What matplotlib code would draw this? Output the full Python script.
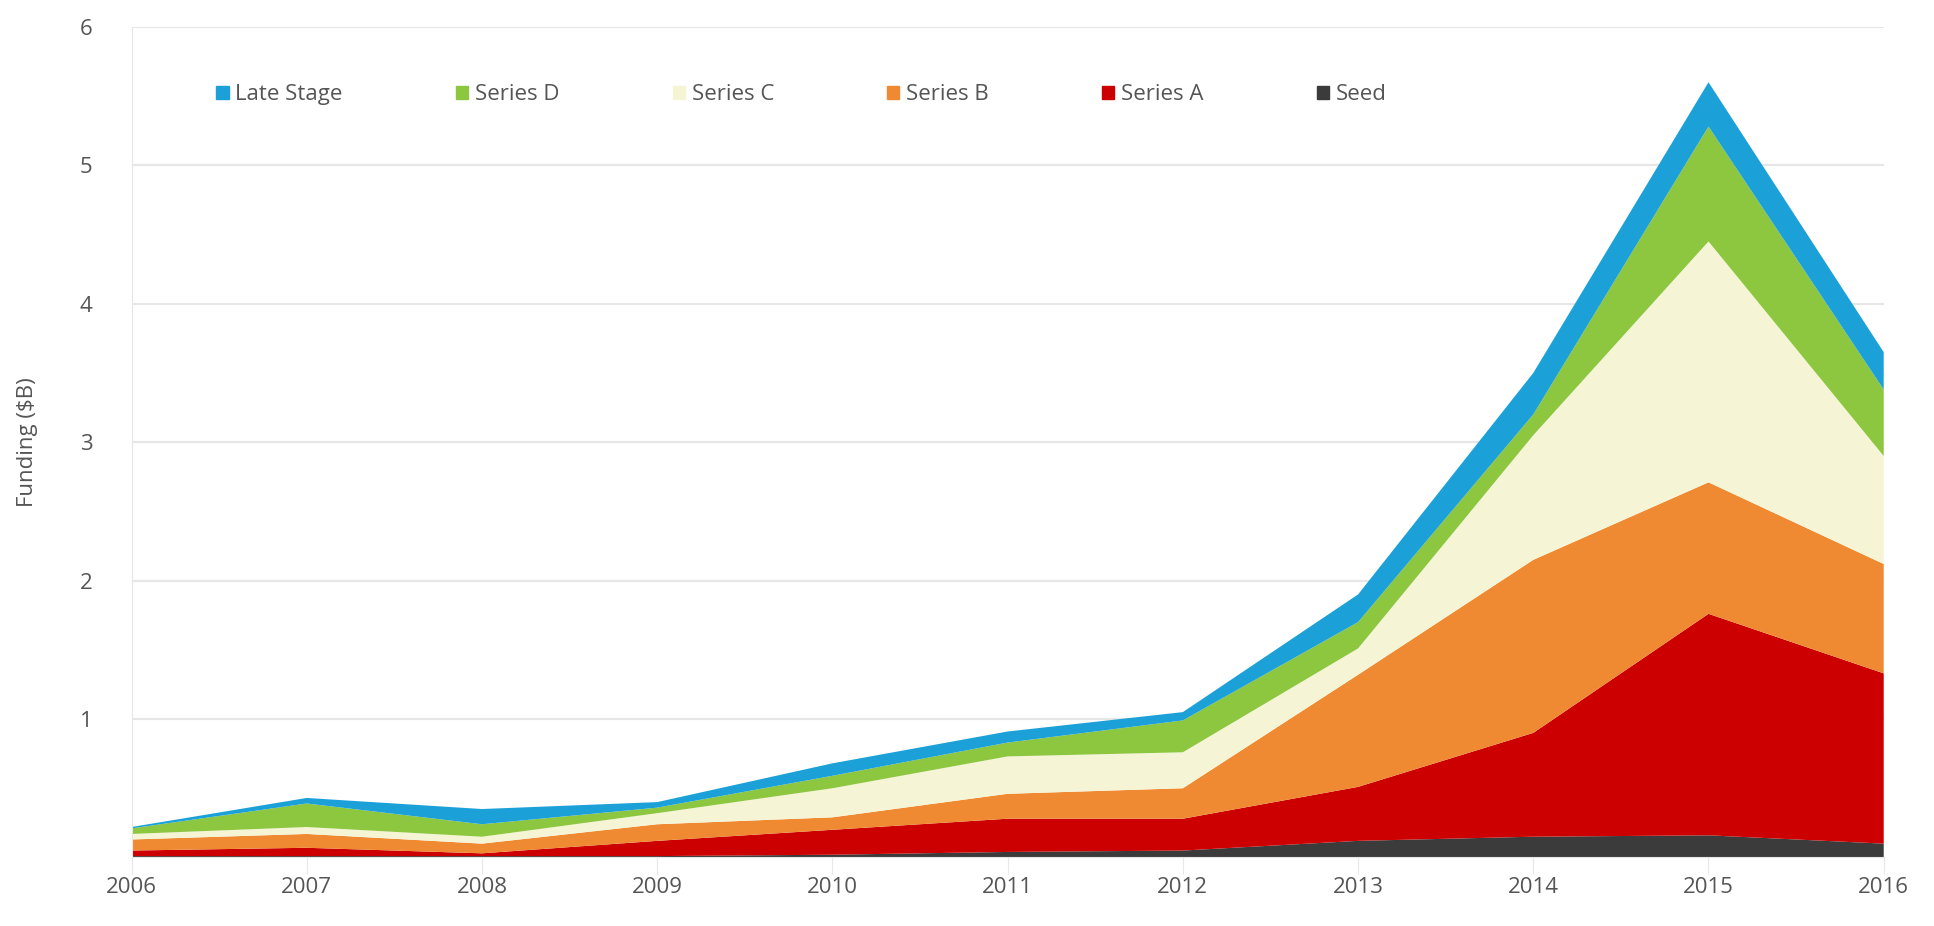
import numpy as np
import matplotlib
matplotlib.use("Agg")
import matplotlib.pyplot as plt
from matplotlib.patches import Patch

plt.rcParams['font.family'] = ['Open Sans', 'DejaVu Sans']

years = [2006, 2007, 2008, 2009, 2010, 2011, 2012, 2013, 2014, 2015, 2016]
seed = [0.01, 0.01, 0.01, 0.01, 0.02, 0.04, 0.05, 0.12, 0.15, 0.16, 0.10]
series_a = [0.04, 0.06, 0.02, 0.11, 0.18, 0.24, 0.23, 0.39, 0.75, 1.60, 1.23]
series_b = [0.08, 0.10, 0.07, 0.12, 0.09, 0.18, 0.22, 0.81, 1.25, 0.95, 0.79]
series_c = [0.04, 0.05, 0.05, 0.08, 0.21, 0.27, 0.26, 0.19, 0.90, 1.74, 0.78]
series_d = [0.04, 0.17, 0.09, 0.04, 0.09, 0.10, 0.23, 0.19, 0.15, 0.83, 0.48]
late_stage = [0.01, 0.04, 0.11, 0.04, 0.09, 0.08, 0.06, 0.20, 0.30, 0.32, 0.27]

labels = ['Seed', 'Series A', 'Series B', 'Series C', 'Series D', 'Late Stage']
colors = ['#3b3b3b', '#cc0000', '#f08a32', '#f5f5d6', '#8dc63f', '#1ba1d8']

fig = plt.figure(figsize=(19.34, 9.26), dpi=100)
ax = fig.add_axes([0.068, 0.074, 0.906, 0.897])

ax.stackplot(years, seed, series_a, series_b, series_c, series_d, late_stage,
             colors=colors, linewidth=0)

ax.set_xlim(2006, 2016)
ax.set_ylim(0, 6)
ax.set_yticks([0, 1, 2, 3, 4, 5, 6])
ax.set_yticklabels(['', '1', '2', '3', '4', '5', '6'])
ax.set_xticks(years)
ax.grid(axis='y', color='#e6e6e6', linewidth=1.5)
ax.set_axisbelow(True)
for s in ['top', 'right']:
    ax.spines[s].set_visible(False)
ax.spines['left'].set_color('#e6e6e6')
ax.spines['bottom'].set_color('#e6e6e6')
ax.tick_params(axis='y', length=0, pad=28, labelsize=16, labelcolor='#555555')
ax.tick_params(axis='x', length=12, color='#e8e8e8', pad=2, labelsize=16, labelcolor='#555555')
ax.set_ylabel('Funding ($B)', fontsize=16, color='#555555', labelpad=30)

handles = [Patch(color=c, label=l) for c, l in zip(colors, labels)][::-1]
ax.legend(handles=handles, ncol=6, loc='upper left', bbox_to_anchor=(0.037, 0.955),
          frameon=False, fontsize=16, labelcolor='#555555', handlelength=0.55,
          handleheight=0.55, handletextpad=0.3, columnspacing=5.1)

fig.savefig('out.png', dpi=100, facecolor='white')
